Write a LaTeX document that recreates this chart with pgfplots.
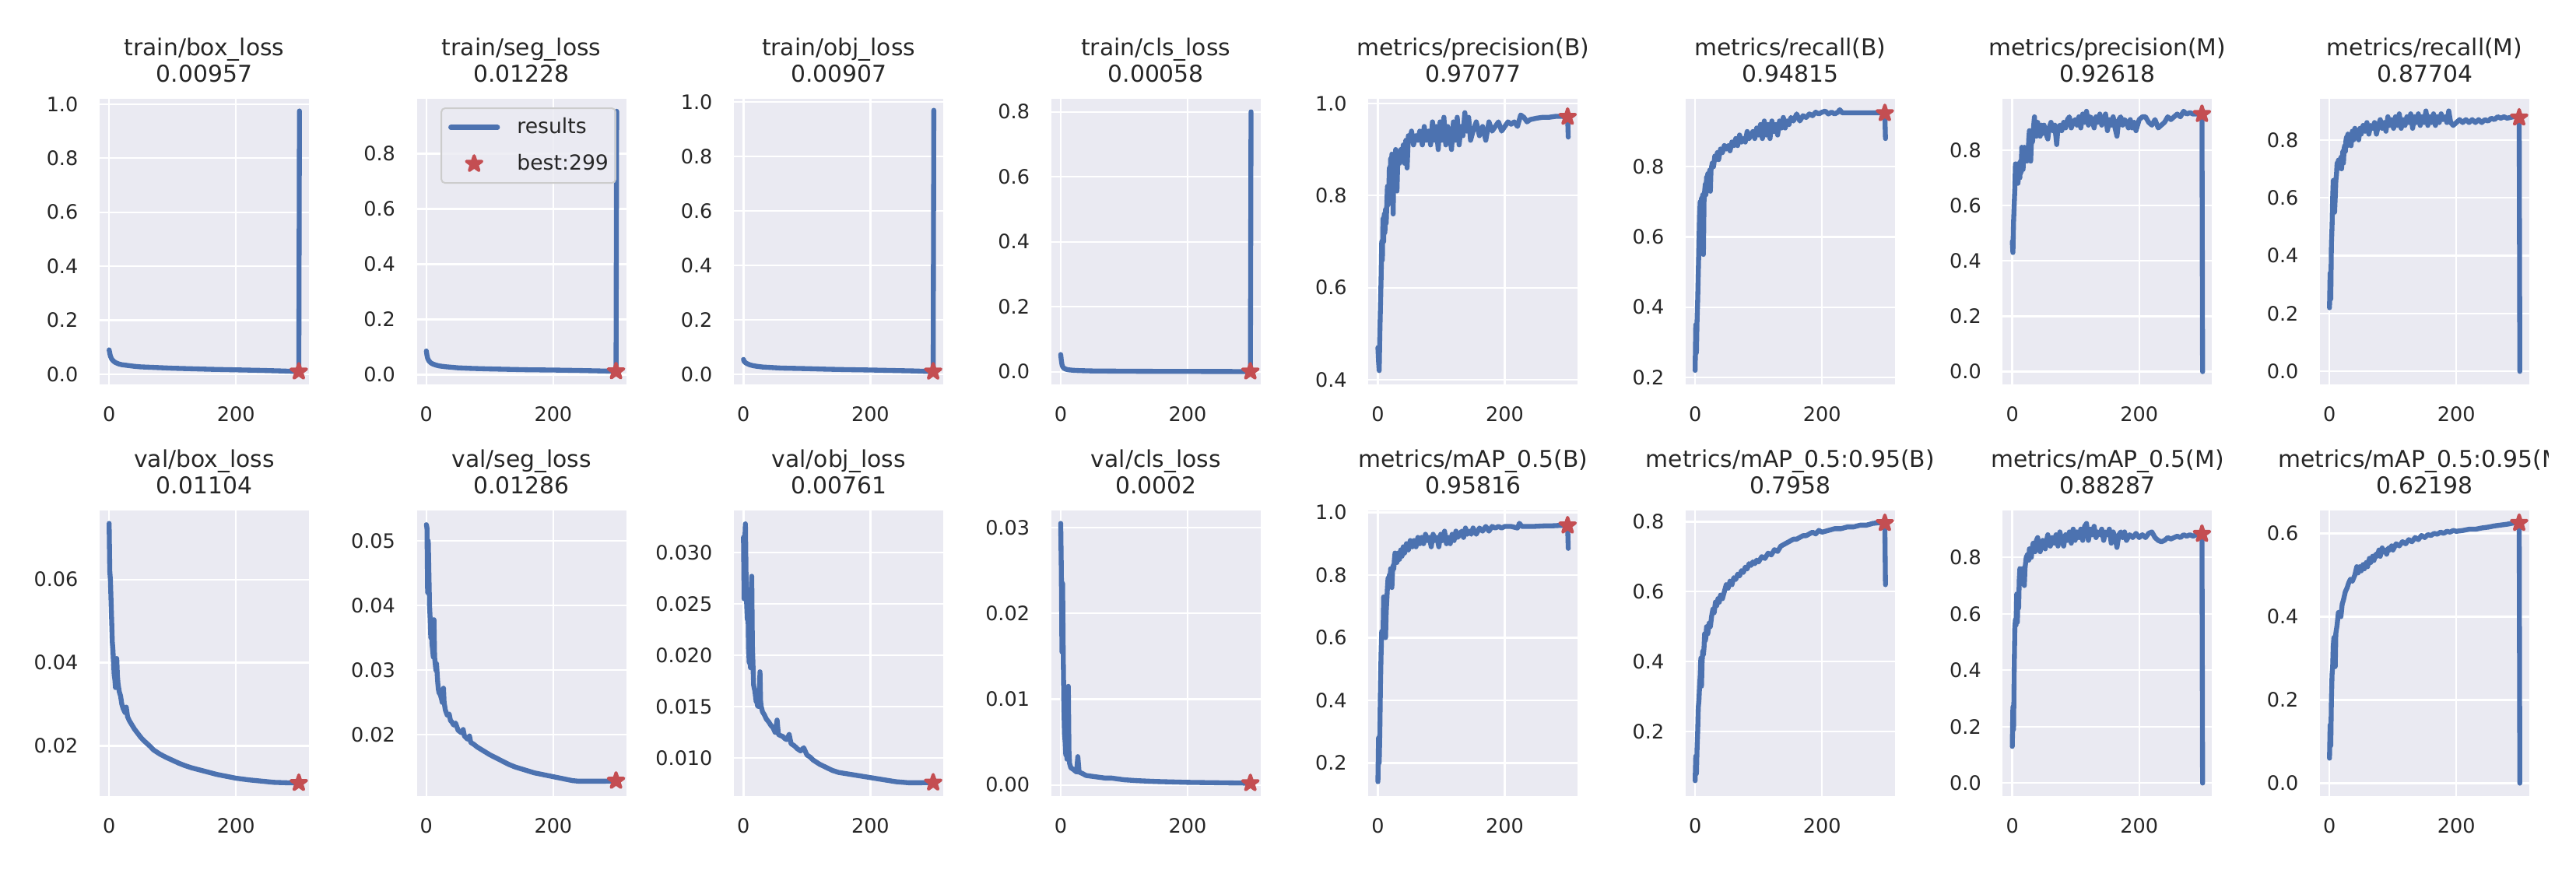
\documentclass[border=0pt]{standalone}
\usepackage{fontspec}
\setmainfont{DejaVu Sans}
\usepackage{pgfplots}
\pgfplotsset{compat=1.18}
\definecolor{sbbg}{HTML}{EAEAF2}
\definecolor{sbblue}{HTML}{4C72B0}
\definecolor{sbred}{HTML}{C44E52}
\definecolor{sbtext}{HTML}{262626}
\definecolor{sbedge}{HTML}{CCCCCC}
\pgfdeclareplotmark{fstar}{%
 \pgfpathmoveto{\pgfpointpolar{90}{\pgfplotmarksize}}%
 \pgfpathlineto{\pgfpointpolar{126}{0.382\pgfplotmarksize}}%
 \pgfpathlineto{\pgfpointpolar{162}{\pgfplotmarksize}}%
 \pgfpathlineto{\pgfpointpolar{198}{0.382\pgfplotmarksize}}%
 \pgfpathlineto{\pgfpointpolar{234}{\pgfplotmarksize}}%
 \pgfpathlineto{\pgfpointpolar{270}{0.382\pgfplotmarksize}}%
 \pgfpathlineto{\pgfpointpolar{306}{\pgfplotmarksize}}%
 \pgfpathlineto{\pgfpointpolar{342}{0.382\pgfplotmarksize}}%
 \pgfpathlineto{\pgfpointpolar{18}{\pgfplotmarksize}}%
 \pgfpathlineto{\pgfpointpolar{54}{0.382\pgfplotmarksize}}%
 \pgfpathclose
 \pgfusepathqfillstroke}
\pgfplotsset{
 sb/.style={
  scale only axis, width=80.7pt, height=110.1pt, anchor=south west,
  xmin=-15, xmax=315, xtick={0,200},
  axis background/.style={fill=sbbg},
  axis line style={draw=none},
  tick style={draw=none}, major tick length=0pt,
  grid=major, major grid style={draw=white, line width=0.7pt},
  scaled y ticks=false,
  tick label style={font=\fontsize{7.65}{9}\selectfont, text=sbtext},
  /pgf/number format/assume math mode=true,
  xticklabel style={anchor=north, inner sep=0pt, yshift=-8.4pt},
  yticklabel style={anchor=east, inner sep=0pt, xshift=-8.1pt},
  every axis title shift=0pt,
  title style={at={(0.5,1)}, anchor=south, inner sep=0pt, yshift=6pt, align=center,
    font=\fontsize{8.93}{10.2}\selectfont, text=sbtext},
  every axis plot/.append style={line width=1.9pt, line join=round, line cap=round},
 },
 prec/.style={yticklabel style={/pgf/number format/fixed,/pgf/number format/fixed zerofill,/pgf/number format/precision=#1}},
}
\newcommand\beststar[2]{\addplot[only marks, mark=fstar, mark size=3.1pt, mark options={fill=sbred, draw=sbred, line width=1.2pt, line join=round}] coordinates {(#1,#2)};}
\begin{document}
\begin{tikzpicture}
% ---------------- row 1 ----------------
\begin{axis}[sb, at={(38.4pt,186.9pt)}, prec=1, ymin=-0.038, ymax=1.02, ytick={0,0.2,0.4,0.6,0.8,1.0},
 title={train/box\_loss\\0.00957}]
\beststar{299}{0.00957}
\addplot[sbblue] coordinates {(0,0.09)(1,0.078)(2,0.067)(4,0.056)(7,0.048)(10,0.043)(15,0.038)(20,0.035)(30,0.032)(40,0.029)(50,0.027)(70,0.025)(100,0.022)(130,0.020)(160,0.018)(200,0.016)(240,0.014)(270,0.012)(298,0.0098)(299,0.00957)(300,0.975)};
\end{axis}
\begin{axis}[sb, at={(160.68pt,186.9pt)}, prec=1, ymin=-0.035, ymax=0.998, ytick={0,0.2,0.4,0.6,0.8},
 title={train/seg\_loss\\0.01228}, reverse legend, legend cell align=left,
 legend style={at={(0.953,0.970)}, anchor=north east, draw=sbedge, line width=0.6pt, fill=sbbg, fill opacity=0.8, text opacity=1,
   rounded corners=1.5pt, font=\fontsize{8.0}{9}\selectfont, text=sbtext, inner xsep=2.7pt, inner ysep=3.6pt,
   row sep=6.5pt, column sep=6.6pt, nodes={inner sep=0pt}},
 legend image code/.code={\draw[sharp corners, fill opacity=1, mark repeat=2, mark phase=2, #1] plot coordinates {(0pt,0pt)(9pt,0pt)(18pt,0pt)};}]
\beststar{299}{0.01228}
\addlegendentry{\fontsize{8.0}{9}\selectfont best:299}
\addplot[sbblue] coordinates {(0,0.086)(1,0.07)(2,0.06)(4,0.05)(7,0.043)(10,0.039)(15,0.035)(20,0.032)(30,0.029)(40,0.027)(50,0.025)(70,0.023)(100,0.021)(130,0.0195)(160,0.018)(200,0.017)(240,0.0155)(270,0.014)(298,0.0125)(299,0.01228)(300,0.953)};
\addlegendentry{\fontsize{8.0}{9}\selectfont results}
\end{axis}
\begin{axis}[sb, at={(282.93pt,186.9pt)}, prec=1, ymin=-0.038, ymax=1.012, ytick={0,0.2,0.4,0.6,0.8,1.0},
 title={train/obj\_loss\\0.00907}]
\beststar{299}{0.00907}
\addplot[sbblue] coordinates {(0,0.054)(1,0.047)(3,0.042)(6,0.038)(10,0.034)(15,0.031)(20,0.029)(30,0.026)(45,0.024)(60,0.022)(80,0.021)(100,0.020)(130,0.018)(160,0.0165)(200,0.015)(240,0.013)(270,0.0115)(298,0.0092)(299,0.00907)(300,0.97)};
\end{axis}
\begin{axis}[sb, at={(405.21pt,186.9pt)}, prec=1, ymin=-0.039, ymax=0.84, ytick={0,0.2,0.4,0.6,0.8},
 title={train/cls\_loss\\0.00058}]
\beststar{299}{0.00058}
\addplot[sbblue] coordinates {(0,0.053)(1,0.035)(2,0.022)(3,0.016)(5,0.011)(8,0.008)(12,0.006)(20,0.0045)(30,0.0035)(50,0.0025)(80,0.002)(120,0.0015)(160,0.0012)(200,0.001)(250,0.0008)(298,0.0006)(299,0.00058)(300,0.8)};
\end{axis}
\begin{axis}[sb, at={(527.49pt,186.9pt)}, prec=1, ymin=0.39, ymax=1.01, ytick={0.4,0.6,0.8,1.0},
 title={metrics/precision(B)\\0.97077}]
\beststar{299}{0.97077}
\addplot[sbblue] coordinates {(0,0.47)(1,0.44)(2,0.42)(3,0.50)(4,0.56)(5,0.62)(6,0.70)(7,0.66)(8,0.75)(9,0.70)(10,0.76)(11,0.72)(12,0.77)(13,0.74)(14,0.78)(15,0.82)(16,0.78)(17,0.80)(18,0.86)(19,0.82)(20,0.88)(21,0.84)(22,0.89)(23,0.87)(24,0.76)(25,0.85)(26,0.88)(27,0.86)(28,0.90)(29,0.88)(30,0.81)(31,0.86)(32,0.89)(34,0.87)(36,0.90)(38,0.88)(40,0.91)(42,0.87)(44,0.92)(46,0.86)(48,0.93)(50,0.92)(53,0.94)(56,0.91)(60,0.93)(63,0.92)(66,0.94)(70,0.91)(73,0.95)(76,0.92)(80,0.94)(83,0.91)(86,0.96)(89,0.92)(92,0.95)(95,0.90)(98,0.96)(101,0.92)(104,0.97)(107,0.91)(110,0.95)(113,0.93)(116,0.90)(119,0.96)(122,0.92)(125,0.97)(128,0.91)(131,0.95)(134,0.93)(137,0.98)(140,0.94)(143,0.97)(146,0.92)(150,0.94)(155,0.96)(160,0.93)(165,0.95)(170,0.92)(175,0.96)(180,0.94)(185,0.95)(190,0.96)(195,0.94)(200,0.95)(205,0.96)(210,0.955)(215,0.96)(220,0.95)(225,0.975)(230,0.97)(235,0.96)(240,0.965)(250,0.968)(260,0.97)(270,0.97)(280,0.972)(290,0.972)(298,0.971)(299,0.97077)(300,0.927)};
\end{axis}
\begin{axis}[sb, at={(649.77pt,186.9pt)}, prec=1, ymin=0.18, ymax=0.993, ytick={0.2,0.4,0.6,0.8},
 title={metrics/recall(B)\\0.94815}]
\beststar{299}{0.952}
\addplot[sbblue] coordinates {(0,0.22)(1,0.35)(2,0.27)(3,0.36)(4,0.42)(5,0.50)(6,0.58)(7,0.66)(8,0.70)(9,0.68)(10,0.71)(11,0.69)(12,0.72)(13,0.55)(14,0.70)(15,0.73)(16,0.75)(17,0.72)(18,0.77)(19,0.76)(20,0.78)(21,0.77)(22,0.74)(23,0.79)(24,0.73)(25,0.79)(27,0.81)(29,0.80)(31,0.83)(33,0.82)(35,0.84)(37,0.82)(40,0.85)(43,0.84)(46,0.86)(49,0.85)(52,0.86)(55,0.845)(58,0.87)(61,0.86)(64,0.88)(67,0.86)(70,0.89)(73,0.87)(76,0.88)(79,0.87)(82,0.90)(85,0.88)(88,0.89)(91,0.90)(94,0.88)(97,0.91)(100,0.89)(103,0.92)(106,0.88)(109,0.93)(112,0.89)(115,0.92)(118,0.88)(121,0.93)(124,0.90)(127,0.92)(130,0.89)(133,0.93)(136,0.91)(139,0.94)(142,0.91)(145,0.93)(148,0.92)(151,0.94)(155,0.93)(160,0.95)(165,0.93)(170,0.945)(175,0.94)(180,0.95)(185,0.945)(190,0.955)(195,0.95)(200,0.955)(205,0.958)(210,0.95)(215,0.955)(220,0.95)(225,0.955)(228,0.962)(232,0.953)(240,0.953)(250,0.953)(260,0.953)(270,0.953)(280,0.953)(290,0.953)(298,0.953)(299,0.952)(300,0.88)};
\end{axis}
\begin{axis}[sb, at={(772.02pt,186.9pt)}, prec=1, ymin=-0.046, ymax=0.985, ytick={0,0.2,0.4,0.6,0.8},
 title={metrics/precision(M)\\0.92618}]
\beststar{299}{0.93}
\addplot[sbblue] coordinates {(0,0.47)(1,0.43)(2,0.54)(3,0.60)(4,0.66)(5,0.75)(6,0.72)(7,0.70)(8,0.75)(9,0.68)(10,0.72)(11,0.73)(12,0.70)(13,0.76)(14,0.72)(15,0.81)(16,0.77)(17,0.73)(18,0.79)(19,0.81)(20,0.76)(21,0.78)(22,0.80)(23,0.76)(24,0.79)(25,0.78)(26,0.84)(27,0.87)(28,0.82)(29,0.76)(30,0.82)(31,0.85)(32,0.83)(33,0.87)(35,0.92)(36,0.86)(38,0.85)(40,0.90)(42,0.87)(44,0.85)(46,0.89)(48,0.86)(50,0.89)(53,0.86)(56,0.84)(58,0.88)(61,0.90)(64,0.87)(67,0.89)(70,0.82)(72,0.88)(75,0.89)(78,0.87)(81,0.90)(84,0.88)(87,0.91)(90,0.92)(93,0.88)(96,0.90)(99,0.91)(102,0.89)(105,0.92)(108,0.88)(111,0.93)(114,0.90)(117,0.94)(120,0.89)(123,0.92)(126,0.91)(129,0.88)(132,0.92)(135,0.90)(138,0.93)(141,0.89)(144,0.91)(147,0.93)(150,0.87)(153,0.91)(156,0.89)(159,0.92)(162,0.88)(165,0.85)(168,0.91)(171,0.92)(174,0.89)(177,0.91)(180,0.90)(183,0.88)(186,0.91)(189,0.88)(192,0.90)(195,0.87)(200,0.91)(205,0.92)(210,0.92)(215,0.90)(220,0.89)(225,0.91)(230,0.88)(235,0.89)(240,0.90)(245,0.92)(250,0.91)(255,0.92)(260,0.93)(265,0.92)(270,0.94)(275,0.93)(280,0.935)(285,0.93)(290,0.93)(298,0.93)(299,0.93)(300,0.0)};
\end{axis}
\begin{axis}[sb, at={(894.3pt,186.9pt)}, prec=1, ymin=-0.045, ymax=0.942, ytick={0,0.2,0.4,0.6,0.8},
 title={metrics/recall(M)\\0.87704}]
\beststar{299}{0.877}
\addplot[sbblue] coordinates {(0,0.22)(1,0.34)(2,0.25)(3,0.44)(4,0.50)(5,0.60)(6,0.66)(7,0.62)(8,0.55)(9,0.60)(10,0.66)(11,0.68)(12,0.72)(13,0.70)(14,0.73)(15,0.71)(16,0.73)(17,0.72)(18,0.74)(19,0.70)(20,0.74)(21,0.76)(22,0.72)(23,0.77)(24,0.78)(25,0.76)(26,0.80)(27,0.81)(28,0.78)(29,0.82)(30,0.79)(32,0.81)(34,0.78)(36,0.83)(38,0.80)(40,0.84)(42,0.81)(44,0.83)(46,0.80)(48,0.84)(50,0.82)(53,0.85)(56,0.83)(59,0.86)(62,0.82)(65,0.85)(68,0.84)(71,0.86)(74,0.82)(77,0.85)(80,0.87)(83,0.84)(86,0.86)(89,0.83)(92,0.88)(95,0.85)(98,0.87)(101,0.84)(104,0.88)(107,0.85)(110,0.89)(113,0.84)(116,0.87)(119,0.85)(122,0.88)(125,0.86)(128,0.89)(131,0.84)(134,0.88)(137,0.86)(140,0.89)(143,0.85)(146,0.88)(149,0.86)(152,0.90)(155,0.85)(158,0.88)(161,0.86)(164,0.89)(167,0.85)(170,0.88)(173,0.86)(176,0.89)(179,0.87)(182,0.88)(185,0.86)(188,0.90)(191,0.86)(195,0.85)(200,0.86)(205,0.87)(210,0.86)(215,0.87)(220,0.86)(225,0.87)(230,0.86)(235,0.87)(240,0.86)(245,0.87)(250,0.865)(255,0.875)(260,0.87)(265,0.88)(270,0.875)(275,0.88)(280,0.875)(290,0.88)(298,0.88)(299,0.877)(300,0.0)};
\end{axis}
% ---------------- row 2 ----------------
\begin{axis}[sb, at={(38.4pt,28.2pt)}, prec=2, ymin=0.0079, ymax=0.0766, ytick={0.02,0.04,0.06},
 title={val/box\_loss\\0.01104}]
\beststar{299}{0.01104}
\addplot[sbblue] coordinates {(0,0.0735)(1,0.062)(2,0.060)(3,0.055)(4,0.050)(5,0.045)(6,0.043)(7,0.040)(8,0.037)(9,0.036)(10,0.034)(11,0.036)(12,0.041)(13,0.037)(14,0.035)(15,0.034)(16,0.033)(18,0.032)(20,0.030)(22,0.029)(25,0.028)(27,0.0293)(29,0.027)(32,0.026)(36,0.025)(40,0.024)(45,0.023)(50,0.022)(55,0.0212)(60,0.0205)(65,0.0198)(70,0.019)(75,0.0185)(80,0.018)(90,0.0172)(100,0.0165)(110,0.0158)(120,0.0152)(130,0.0147)(140,0.0143)(150,0.0139)(160,0.0135)(170,0.0131)(180,0.0128)(190,0.0125)(200,0.0122)(220,0.0118)(240,0.0115)(260,0.0112)(280,0.0111)(300,0.01104)};
\end{axis}
\begin{axis}[sb, at={(160.68pt,28.2pt)}, prec=2, ymin=0.0105, ymax=0.0547, ytick={0.02,0.03,0.04,0.05},
 title={val/seg\_loss\\0.01286}]
\beststar{299}{0.01286}
\addplot[sbblue] coordinates {(0,0.0525)(1,0.052)(2,0.042)(3,0.050)(4,0.045)(5,0.040)(6,0.038)(7,0.035)(8,0.037)(9,0.034)(10,0.033)(11,0.032)(12,0.0378)(13,0.032)(14,0.031)(15,0.030)(16,0.031)(17,0.0295)(18,0.028)(19,0.027)(20,0.0265)(22,0.0262)(24,0.0255)(25,0.025)(26,0.0262)(27,0.0272)(28,0.025)(30,0.0238)(33,0.023)(36,0.0232)(38,0.0222)(40,0.022)(43,0.0215)(46,0.0218)(50,0.0207)(55,0.0203)(58,0.0208)(60,0.0198)(65,0.0193)(68,0.0198)(70,0.0188)(75,0.0185)(80,0.0181)(85,0.0178)(90,0.0175)(95,0.0172)(100,0.0169)(110,0.0164)(120,0.0159)(130,0.0154)(140,0.015)(150,0.0147)(160,0.0144)(170,0.0141)(180,0.0139)(190,0.0137)(200,0.0135)(210,0.0133)(220,0.0131)(230,0.0129)(240,0.0128)(260,0.0128)(280,0.0128)(300,0.01286)};
\end{axis}
\begin{axis}[sb, at={(282.93pt,28.2pt)}, prec=3, ymin=0.0063, ymax=0.0341, ytick={0.010,0.015,0.020,0.025,0.030},
 title={val/obj\_loss\\0.00761}]
\beststar{299}{0.00761}
\addplot[sbblue] coordinates {(0,0.0315)(1,0.0255)(2,0.031)(3,0.0328)(4,0.028)(5,0.025)(6,0.0235)(7,0.025)(8,0.0207)(9,0.0193)(10,0.020)(11,0.0188)(12,0.0245)(13,0.0277)(14,0.021)(15,0.019)(16,0.0171)(17,0.0168)(18,0.0165)(19,0.016)(20,0.0155)(21,0.0158)(22,0.0151)(24,0.015)(25,0.016)(26,0.0184)(27,0.0155)(28,0.015)(30,0.0145)(33,0.0142)(36,0.0138)(40,0.0135)(43,0.0132)(46,0.013)(50,0.0125)(53,0.0137)(55,0.0123)(58,0.0122)(62,0.0121)(65,0.0119)(68,0.0118)(72,0.0123)(75,0.0114)(80,0.0112)(85,0.0109)(90,0.0107)(95,0.0110)(100,0.0103)(105,0.0101)(110,0.0098)(120,0.0094)(130,0.0091)(140,0.0088)(150,0.0086)(160,0.0085)(170,0.0084)(180,0.0083)(190,0.0082)(200,0.0081)(210,0.008)(220,0.0079)(230,0.0078)(240,0.0077)(260,0.0076)(280,0.0076)(300,0.00761)};
\end{axis}
\begin{axis}[sb, at={(405.21pt,28.2pt)}, prec=2, ymin=-0.0013, ymax=0.032, ytick={0,0.01,0.02,0.03},
 title={val/cls\_loss\\0.0002}]
\beststar{299}{0.0002}
\addplot[sbblue] coordinates {(0,0.0305)(1,0.025)(2,0.0155)(3,0.0235)(4,0.015)(5,0.009)(6,0.006)(7,0.005)(8,0.0035)(9,0.004)(10,0.003)(11,0.004)(12,0.0115)(13,0.004)(14,0.0025)(16,0.002)(20,0.0018)(25,0.0015)(27,0.0033)(29,0.0015)(35,0.0013)(40,0.0011)(50,0.001)(60,0.0009)(70,0.0008)(80,0.0008)(100,0.0006)(120,0.0005)(150,0.0004)(200,0.0003)(250,0.00025)(300,0.0002)};
\end{axis}
\begin{axis}[sb, at={(527.49pt,28.2pt)}, prec=1, ymin=0.094, ymax=1.006, ytick={0.2,0.4,0.6,0.8,1.0},
 title={metrics/mAP\_0.5(B)\\0.95816}]
\beststar{299}{0.958}
\addplot[sbblue] coordinates {(0,0.14)(1,0.28)(2,0.20)(3,0.30)(4,0.45)(5,0.55)(6,0.62)(7,0.61)(8,0.60)(9,0.73)(10,0.70)(11,0.66)(12,0.60)(13,0.68)(14,0.72)(15,0.76)(16,0.79)(17,0.77)(18,0.80)(19,0.78)(20,0.82)(21,0.79)(22,0.76)(23,0.81)(24,0.83)(25,0.82)(26,0.85)(27,0.87)(28,0.84)(29,0.86)(30,0.84)(32,0.87)(34,0.85)(36,0.88)(38,0.86)(40,0.89)(42,0.87)(45,0.90)(48,0.88)(51,0.91)(54,0.89)(57,0.91)(60,0.89)(63,0.92)(66,0.90)(69,0.92)(72,0.90)(75,0.93)(78,0.91)(81,0.92)(84,0.89)(87,0.93)(90,0.91)(93,0.92)(96,0.89)(99,0.93)(102,0.91)(105,0.94)(108,0.90)(111,0.92)(114,0.90)(117,0.93)(120,0.91)(123,0.94)(126,0.92)(129,0.93)(132,0.94)(135,0.92)(138,0.95)(141,0.93)(144,0.94)(147,0.93)(150,0.95)(155,0.93)(160,0.95)(165,0.94)(170,0.955)(175,0.94)(180,0.955)(185,0.95)(190,0.955)(195,0.95)(200,0.955)(210,0.955)(220,0.95)(223,0.965)(227,0.955)(235,0.955)(245,0.955)(255,0.956)(265,0.957)(275,0.957)(285,0.958)(298,0.958)(299,0.958)(300,0.885)};
\end{axis}
\begin{axis}[sb, at={(649.77pt,28.2pt)}, prec=1, ymin=0.016, ymax=0.832, ytick={0.2,0.4,0.6,0.8},
 title={metrics/mAP\_0.5:0.95(B)\\0.7958}]
\beststar{299}{0.7958}
\addplot[sbblue] coordinates {(0,0.06)(1,0.13)(2,0.08)(3,0.15)(4,0.20)(5,0.27)(6,0.29)(7,0.33)(8,0.36)(9,0.41)(10,0.33)(11,0.40)(12,0.43)(13,0.42)(14,0.44)(15,0.48)(16,0.46)(17,0.47)(18,0.50)(19,0.49)(20,0.48)(22,0.51)(24,0.50)(26,0.53)(28,0.55)(30,0.54)(32,0.57)(34,0.56)(36,0.58)(38,0.57)(40,0.59)(43,0.58)(46,0.60)(49,0.62)(52,0.61)(55,0.63)(58,0.62)(61,0.64)(64,0.635)(67,0.65)(70,0.645)(73,0.66)(76,0.655)(79,0.67)(82,0.665)(85,0.68)(88,0.675)(91,0.685)(94,0.68)(97,0.69)(100,0.685)(105,0.70)(110,0.695)(115,0.71)(120,0.705)(125,0.72)(130,0.715)(135,0.73)(140,0.735)(145,0.74)(150,0.745)(155,0.75)(160,0.75)(165,0.755)(170,0.76)(175,0.76)(180,0.765)(185,0.77)(190,0.765)(195,0.775)(200,0.77)(210,0.775)(220,0.78)(230,0.78)(240,0.785)(250,0.785)(260,0.79)(270,0.79)(280,0.795)(290,0.797)(298,0.797)(299,0.7958)(300,0.62)};
\end{axis}
\begin{axis}[sb, at={(772.02pt,28.2pt)}, prec=1, ymin=-0.046, ymax=0.966, ytick={0,0.2,0.4,0.6,0.8},
 title={metrics/mAP\_0.5(M)\\0.88287}]
\beststar{299}{0.88287}
\addplot[sbblue] coordinates {(0,0.13)(1,0.27)(2,0.19)(3,0.40)(4,0.55)(5,0.58)(6,0.56)(7,0.67)(8,0.57)(9,0.66)(10,0.62)(11,0.72)(12,0.76)(13,0.74)(14,0.72)(15,0.75)(16,0.76)(17,0.73)(18,0.72)(19,0.70)(20,0.76)(21,0.78)(22,0.80)(24,0.81)(26,0.79)(27,0.83)(28,0.82)(30,0.80)(32,0.84)(33,0.85)(35,0.83)(36,0.82)(38,0.86)(40,0.87)(42,0.84)(44,0.82)(46,0.85)(48,0.86)(50,0.84)(52,0.83)(54,0.86)(56,0.88)(58,0.85)(60,0.84)(63,0.87)(66,0.85)(69,0.88)(72,0.84)(75,0.89)(78,0.86)(81,0.84)(84,0.88)(87,0.86)(90,0.89)(93,0.85)(96,0.90)(99,0.86)(102,0.89)(105,0.87)(108,0.90)(111,0.86)(114,0.91)(117,0.92)(120,0.86)(123,0.90)(126,0.88)(129,0.91)(132,0.87)(135,0.89)(138,0.88)(141,0.90)(144,0.86)(147,0.89)(150,0.88)(153,0.90)(156,0.85)(159,0.89)(162,0.87)(165,0.835)(168,0.88)(171,0.89)(174,0.87)(177,0.89)(180,0.86)(185,0.88)(190,0.87)(195,0.885)(200,0.87)(205,0.88)(210,0.87)(215,0.885)(220,0.89)(225,0.87)(230,0.86)(235,0.855)(240,0.86)(245,0.87)(250,0.865)(255,0.87)(260,0.875)(265,0.87)(270,0.88)(275,0.875)(280,0.88)(285,0.875)(290,0.88)(298,0.88)(299,0.88287)(300,0.0)};
\end{axis}
\begin{axis}[sb, at={(894.3pt,28.2pt)}, prec=1, ymin=-0.031, ymax=0.655, ytick={0,0.2,0.4,0.6},
 title={metrics/mAP\_0.5:0.95(M)\\0.62198}]
\beststar{299}{0.625}
\addplot[sbblue] coordinates {(0,0.06)(1,0.14)(2,0.09)(3,0.20)(4,0.26)(5,0.28)(6,0.33)(7,0.35)(8,0.30)(9,0.28)(10,0.36)(12,0.38)(14,0.41)(16,0.41)(18,0.40)(20,0.43)(22,0.44)(25,0.46)(28,0.47)(30,0.48)(33,0.49)(36,0.485)(40,0.50)(43,0.52)(45,0.505)(48,0.52)(50,0.51)(53,0.525)(55,0.515)(58,0.53)(60,0.52)(63,0.54)(65,0.53)(68,0.545)(70,0.535)(73,0.55)(75,0.545)(78,0.56)(80,0.545)(83,0.565)(85,0.555)(88,0.56)(90,0.55)(93,0.565)(95,0.56)(98,0.57)(100,0.56)(105,0.575)(110,0.57)(115,0.58)(120,0.575)(125,0.585)(130,0.58)(135,0.59)(140,0.585)(145,0.595)(150,0.59)(155,0.597)(160,0.595)(165,0.6)(170,0.598)(175,0.603)(180,0.6)(185,0.605)(190,0.603)(195,0.607)(200,0.605)(210,0.607)(220,0.61)(230,0.61)(240,0.613)(250,0.615)(260,0.618)(270,0.62)(280,0.622)(290,0.625)(298,0.625)(299,0.625)(300,0.0)};
\end{axis}
\fill[white] (982.5pt,0pt) rectangle (1000pt,340pt);
\pgfresetboundingbox
\path[use as bounding box] (0,0) rectangle (993pt,335.1pt);
\end{tikzpicture}
\end{document}
